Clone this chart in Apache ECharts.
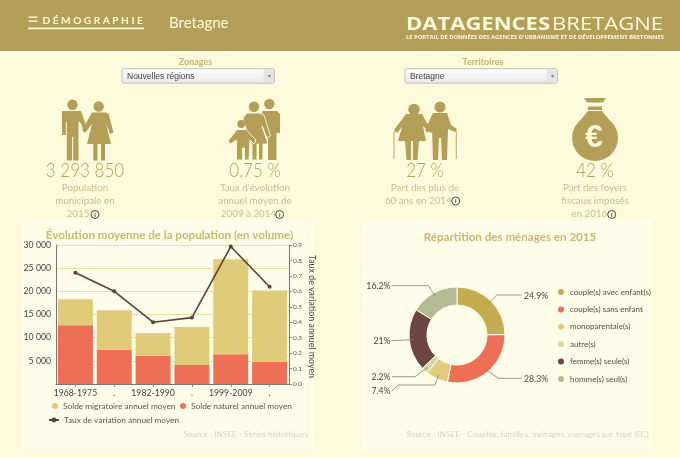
<!DOCTYPE html>
<html><head><meta charset="utf-8">
<style>html,body{margin:0;padding:0;background:#fdfbdc}#c{width:680px;height:458px}</style>
<script src="https://cdn.jsdelivr.net/npm/echarts@6/dist/echarts.min.js"></script>
</head><body><div id="c"></div>
<script>
const periods=['1968-1975','.','1982-1990','.','1999-2009','.'];
const soldeNaturel=[12700,7400,6100,4100,6400,4800];
const soldeMigratoire=[5600,8500,4900,8200,20500,15400];
const tauxVariation=[0.72,0.6,0.4,0.43,0.89,0.63];
const menageNames=['couple(s) avec enfant(s)','couple(s) sans enfant','monoparentale(s)','autre(s)','femme(s) seule(s)','homme(s) seul(s)'];
const menageValues=[24.9,28.3,7.4,2.2,21,16.2];
const menageColors=['#c3ad4e','#ed6f55','#e2cc7a','#d3d8a6','#6f4540','#b3ba94'];
const F='Lato, sans-serif';
const BG='#fdfbdc', G='#b39f57', TXT='#c9bd8a', T='#c8b96e';
const el=[];
function rect(x,y,w,h,fill,extra){el.push(Object.assign({type:'rect',silent:true,shape:{x,y,width:w,height:h},style:{fill}},extra||{}));}
function circ(cx,cy,r,style){el.push({type:'circle',silent:true,shape:{cx,cy,r},style});}
function poly(points,fill,stroke){el.push({type:'polygon',silent:true,shape:{points},style:stroke?{fill,stroke,lineWidth:.9}:{fill}});}
function line(points,stroke,w,z){const o={type:'polyline',silent:true,shape:{points},style:{stroke,fill:null,lineWidth:w}};if(z)o.z=z;el.push(o);}
function text(x,y,t,font,fill,align,scaleX){const o={type:'text',silent:true,x,y,style:{text:t,font,fill,align:align||'center',verticalAlign:'middle'}};if(scaleX)o.scaleX=scaleX;el.push(o);}
function info(cx,cy){circ(cx,cy,4,{fill:'none',stroke:'#333',lineWidth:.9});text(cx,cy+.2,'i','bold 6px '+F,'#333','center');}
// header
rect(0,0,680,51,G);
rect(28.5,16.5,9,1.4,BG);rect(28.5,20.5,9,1.4,BG);rect(28,27.6,116,1.6,BG);
text(42.5,20.5,'D É M O G R A P H I E','bold 10.2px '+F,BG,'left');
text(169,23,'Bretagne','15px '+F,BG,'left');
text(406,25,'DATAGENCES','bold 18.5px "Open Sans", sans-serif',BG,'left',1.19);
text(663,25,'BRETAGNE','18.5px "Open Sans", sans-serif',BG,'right',1.19);
text(406,37.7,"LE PORTAIL DE DONNÉES DES AGENCES D'URBANISME ET DE DÉVELOPPEMENT BRETONNES",'bold 5.8px "Open Sans", sans-serif',BG,'left');
// panels
rect(22,219,292,232,'#fefde9');rect(362,219,290,232,'#fefde9');
// selects
function select(x,w,label,lx,val){
 text(lx,62,label,'bold 9px '+F,'#c8b56f','center');
 rect(x,68.7,w,14.5,{type:'linear',x:0,y:0,x2:0,y2:1,colorStops:[{offset:0,color:'#ffffff'},{offset:1,color:'#e8e8e8'}]});
 const r=el[el.length-1];r.shape.r=2;r.style.stroke='#aaa';r.style.lineWidth=.7;
 rect(x+w-11,69.2,10.5,13.5,'#e4e4e4');
 text(x+w-5.5,76.5,'▾','6px '+F,'#777','center');
 text(x+5,76.5,val,'8.5px "Liberation Sans", sans-serif','#444','left');
}
select(122,152.5,'Zonages',195.5,'Nouvelles régions');
select(405,152.5,'Territoires',483,'Bretagne');
// man + woman
const I='#b39f57';
circ(72.5,104.7,5.2,{fill:I});
poly([[62,111],[81,111],[87,128],[84,131],[80,122],[78.5,122],[78.5,160.5],[73.2,160.5],[73.2,137],[72,137],[72,160.5],[66.8,160.5],[66.8,122],[65.8,122],[65.8,135],[62,135]],I);
circ(98.7,106.5,5.2,{fill:I});
poly([[92,112.5],[105,112.5],[108.5,113.5],[113.5,132.5],[110,134],[105.5,122],[111,144],[105,144],[105,160.5],[101,160.5],[101,144],[97.5,144],[97.5,160.5],[93.3,160.5],[93.3,144],[87,144],[92,124],[85,133],[82,130]],I);
// family
circ(269.3,104,5.2,{fill:I});
poly([[262,111],[277,111],[280,114],[280,133],[276.5,133],[276.5,160],[268,160],[268,140],[262,125]],I);
circ(254,106.7,5.2,{fill:I});
poly([[247,113],[260,113],[264,115],[270.5,136],[267,138],[262,126],[268,144],[263,144],[263,160],[258.5,160],[258.5,144],[257,144],[257,160],[252,160],[252,144],[249,140],[243,118]],I,BG);
circ(241.3,124,4,{fill:I});
poly([[237,129.5],[246,129.5],[256,140],[254,144],[250,140],[249,160],[244.5,160],[244.5,148],[242.5,148],[242.5,160],[236.5,160],[236.5,140],[230.5,144],[228,141]],I,BG);
// elderly
circ(414,109.5,5.8,{fill:I});circ(440,107,5.5,{fill:I});
poly([[406,114],[422,114],[427,123],[434,131],[431,133],[423,126],[426,141],[419,141],[417.5,160],[413,160],[413,141],[411,141],[411,160],[406.5,160],[405,141],[398,141],[402,127],[397,133],[394,130]],I);
poly([[433,113],[447,113],[451,125],[457,129],[455,132],[448,129],[447,160],[442,160],[441,138],[439,138],[438,160],[433,160],[432,128],[427,133],[425,130]],I);
line([[394,159],[394,132],[397,130.5]],I,.9);line([[456.3,159],[456.3,131],[453,130]],I,.9);
// money bag
poly([[584,98],[606,98],[603,102.5],[587,102.5]],I);rect(588,106.5,14,3.5,I);
poly([[588,111],[602,111],[615,127],[575,127]],I);
circ(595,138,23,{fill:I});
text(594,138.5,'€','bold 32px "Liberation Sans", sans-serif',BG,'center');
// stats
function stat(cx,num,lines,lastCx){
 text(cx,171,num,'300 20px '+F,G,'center',0.85);
 lines.forEach((l,i)=>text(i===lines.length-1&&lastCx?lastCx:cx,188+i*13,l,'9.8px '+F,TXT,'center'));
}
stat(85,'3 293 850',['Population','municipale en','2015'],78);info(95,214.5);
stat(255,'0.75 %',["Taux d'évolution",'annuel moyen de','2009 à 2014'],248.5);info(279.7,214.5);
stat(425,'27 %',['Part des plus de','60 ans en 2014'],418.3);info(455.7,201);
stat(595,'42 %',['Part des foyers','fiscaux imposés','en 2016'],589.3);info(611.7,214.5);
// titles
text(169.5,235.5,'Évolution moyenne de la population (en volume)','bold 11.6px '+F,T,'center');
text(510,237,'Répartition des ménages en 2015','bold 11.6px '+F,T,'center');
text(245.5,434,'Source : INSEE - Séries historiques','8.25px '+F,'#d5d5c5','center');
text(527.5,434,'Source : INSEE - Couples, familles, ménages, menages par type (EC)','8.25px '+F,'#d5d5c5','center');
// pie label placement and leader lines, the leader starts from each slice's own angle
const pieLabelPos=[[524,295.7],[524,378.7],[390.5,391],[390.5,376.7],[390.5,341],[390.5,286]];
const pieLeader=[[[496.7,295],[521.7,295]],[[498.3,378.3],[521.7,378.3]],[[435,385],[398.3,385],[391.7,391]],[[415,376.7],[391.7,376.7]],[[391.7,340.7]],[[428.3,285.7],[391.7,285.7]]];
const total=menageValues.reduce((a,b)=>a+b,0);
function midPoint(i){const before=menageValues.slice(0,i).reduce((a,b)=>a+b,0);const a=(before+menageValues[i]/2)/total*2*Math.PI;return [457+44*Math.sin(a),335-44*Math.cos(a)];}
pieLeader.forEach((p,i)=>line([midPoint(i)].concat(p),'#7f8070',.8,10));
const chart=echarts.init(document.getElementById('c'),null,{renderer:'canvas'});
const legendText={fontFamily:F,fontSize:8.3,color:'#5a5844'};
chart.setOption({
 animation:false,backgroundColor:BG,
 graphic:{elements:el},
 grid:{left:56,top:245,width:233,height:139,backgroundColor:'#fefef0',show:true,borderWidth:0},
 legend:[
  {data:['Solde migratoire annuel moyen'],icon:'circle',left:52,top:402,padding:0,itemWidth:6,itemHeight:6,textStyle:legendText},
  {data:['Solde naturel annuel moyen'],icon:'circle',left:180,top:402,padding:0,itemWidth:6,itemHeight:6,textStyle:legendText},
  {data:['Taux de variation annuel moyen'],left:48,top:416,padding:0,itemWidth:10,itemHeight:6,textStyle:legendText},
  {data:menageNames,orient:'vertical',left:556,top:287,padding:0,itemWidth:8,itemHeight:8,itemGap:7.4,icon:'circle',
   textStyle:{fontFamily:F,fontSize:8,color:'#4f4d3e'}}
 ],
 xAxis:{type:'category',data:periods,axisTick:{show:true,alignWithLabel:true,length:3,lineStyle:{color:'#888'}},axisLine:{lineStyle:{color:'#777'}},
  axisLabel:{interval:0,fontFamily:F,fontSize:8.7,color:'#444',margin:5},splitLine:{show:false}},
 yAxis:[
  {type:'value',min:0,max:30000,interval:5000,axisLine:{show:true,lineStyle:{color:'#777'}},axisTick:{show:false},
   splitLine:{lineStyle:{color:'#e7ddaa',width:1}},
   axisLabel:{fontFamily:F,fontSize:8.7,color:'#444',margin:5,formatter:v=>v===0?'':String(v).replace(/(\d)(?=\d{3}$)/,'$1 ')}},
  {type:'value',min:0,max:0.9,interval:0.1,position:'right',axisLine:{show:true,lineStyle:{color:'#777'}},axisTick:{show:true,length:3,lineStyle:{color:'#888'}},splitLine:{show:false},
   axisLabel:{fontFamily:F,fontSize:6.5,color:'#555',margin:4,formatter:v=>v.toFixed(1)},
   name:'Taux de variation annuel moyen',nameLocation:'middle',nameRotate:-90,nameGap:18,nameTextStyle:{fontFamily:F,fontSize:8.9,color:'#444',padding:[0,0,0,4]}}
 ],
 series:[
  {name:'Solde naturel annuel moyen',type:'bar',stack:'s',data:soldeNaturel,barCategoryGap:'10%',itemStyle:{color:'#ed6f55'}},
  {name:'Solde migratoire annuel moyen',type:'bar',stack:'s',data:soldeMigratoire,itemStyle:{color:'#e0cb79'}},
  {name:'Taux de variation annuel moyen',type:'line',yAxisIndex:1,data:tauxVariation,symbol:'circle',symbolSize:4,lineStyle:{color:'#5f3f3a',width:1.6},itemStyle:{color:'#5f3f3a'}},
  {type:'pie',radius:[30,48],center:[457,335],clockwise:true,startAngle:90,z:1,
   data:menageNames.map((n,i)=>({name:n,value:menageValues[i],itemStyle:{color:menageColors[i]}})),
   itemStyle:{borderColor:'#fefde9',borderWidth:1},
   label:{formatter:p=>p.value+'%',fontFamily:F,fontSize:8.7,color:'#444'},
   labelLine:{show:false},
   labelLayout:p=>{const i=p.dataIndex,q=pieLabelPos[i];return {x:q[0],y:q[1],align:q[0]>457?'left':'right',verticalAlign:'middle',moveOverlap:false};}
  }
 ]
});
</script></body></html>
